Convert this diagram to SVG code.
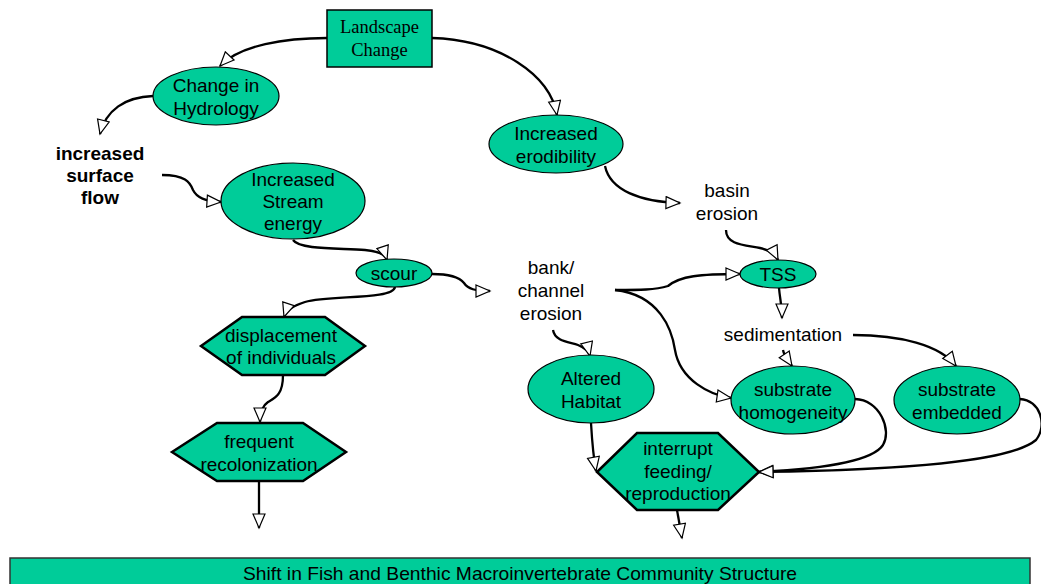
<svg xmlns="http://www.w3.org/2000/svg" width="1041" height="584" viewBox="0 0 1041 584">
<style>
.n{fill:#00CC99;stroke:#000;stroke-width:1.2}
.h{fill:#00CC99;stroke:#000;stroke-width:2.5}
.t{font-family:"Liberation Sans",Arial,sans-serif;font-size:19px;fill:#000;text-anchor:middle}
.b{font-weight:bold}
.s{font-family:"Liberation Serif","Times New Roman",serif;font-size:18.5px;fill:#000;text-anchor:middle}
.c{fill:none;stroke:#000;stroke-width:2.3;marker-end:url(#a)}
</style>
<defs>
<marker id="a" markerUnits="userSpaceOnUse" markerWidth="17" markerHeight="15" refX="15" refY="7" orient="auto">
<path d="M1,1 L15,7 L1,13 Z" fill="#fff" stroke="#000" stroke-width="1.2"/>
</marker>
</defs>
<rect width="1041" height="584" fill="#fff"/>
<g id="connectors">
<path class="c" d="M327,38 C285,38 240,45 220,66"/>
<path class="c" d="M153,96 C125,97 106,110 100,134"/>
<path class="c" d="M162,175 C185,175 190,182 193,190 C197,198 205,201 221,202"/>
<path class="c" d="M293,240 C300,250 340,248 365,250 C378,251 385,254 387,260"/>
<path class="c" d="M432,274 C452,274 460,278 464,283 C468,289 475,291 490,291"/>
<path class="c" d="M395,287 C393,300 330,295 305,302 C292,306 286,311 284,317"/>
<path class="c" d="M283,375 C283,395 275,398 268,402 C262,406 260,412 260,422"/>
<path class="c" d="M259,481 L259,528"/>
<path class="c" d="M432,38 C500,40 550,75 557,115"/>
<path class="c" d="M605,166 C610,190 640,202 680,203"/>
<path class="c" d="M726,230 C726,245 745,245 760,248 C770,250 775,254 778,260"/>
<path class="c" d="M615,290 C640,290 655,290 668,286 C680,276 700,274 740,274"/>
<path class="c" d="M615,290 C660,295 672,330 675,350 C680,380 710,395 731,398"/>
<path class="c" d="M553,330 C555,342 570,342 578,345 C585,348 589,352 590,356"/>
<path class="c" d="M779,288 C780,300 782,305 782,318"/>
<path class="c" d="M783,350 C784,356 788,360 792,366"/>
<path class="c" d="M853,335 C900,335 940,345 956,366"/>
<path class="c" d="M855,399 C880,400 892,430 883,445 C870,465 800,470 759,472"/>
<path class="c" d="M1020,399 C1040,400 1048,425 1036,440 C1010,462 900,470 759,472"/>
<path class="c" d="M591,423 C592,440 593,455 596,471"/>
<path class="c" d="M677,510 L682,538"/>
</g>
<g id="landscape-change">
<rect class="n" x="327" y="10" width="105" height="57" style="stroke-width:1.5"/>
<text class="s" x="379.5" y="33">Landscape</text>
<text class="s" x="379.5" y="56">Change</text>
</g>
<g id="change-hydrology">
<ellipse class="n" cx="216" cy="96" rx="63" ry="29"/>
<text class="t" x="216" y="92">Change in</text>
<text class="t" x="216" y="115">Hydrology</text>
</g>
<g id="increased-surface-flow">
<text class="t b" x="100" y="160">increased</text>
<text class="t b" x="100" y="182">surface</text>
<text class="t b" x="100" y="204">flow</text>
</g>
<g id="stream-energy">
<ellipse class="n" cx="293" cy="201" rx="72" ry="38"/>
<text class="t" x="293" y="186">Increased</text>
<text class="t" x="293" y="208">Stream</text>
<text class="t" x="293" y="230">energy</text>
</g>
<g id="scour">
<ellipse class="n" cx="394" cy="273" rx="38" ry="14"/>
<text class="t" x="394" y="280">scour</text>
</g>
<g id="displacement">
<polygon class="h" points="201,346 242,317 325,317 365,346 325,375 242,375"/>
<text class="t" x="281" y="342">displacement</text>
<text class="t" x="281" y="364">of individuals</text>
</g>
<g id="recolonization">
<polygon class="h" points="172,452 217,423 303,423 346,452 303,481 217,481"/>
<text class="t" x="259" y="448">frequent</text>
<text class="t" x="259" y="471">recolonization</text>
</g>
<g id="erodibility">
<ellipse class="n" cx="556" cy="144" rx="67" ry="29"/>
<text class="t" x="556" y="140">Increased</text>
<text class="t" x="556" y="163">erodibility</text>
</g>
<g id="basin-erosion">
<text class="t" x="727" y="197">basin</text>
<text class="t" x="727" y="220">erosion</text>
</g>
<g id="bank-erosion">
<text class="t" x="551" y="274">bank/</text>
<text class="t" x="551" y="297">channel</text>
<text class="t" x="551" y="320">erosion</text>
</g>
<g id="tss">
<ellipse class="n" cx="778" cy="274" rx="38" ry="14"/>
<text class="t" x="778" y="281">TSS</text>
</g>
<g id="sedimentation">
<text class="t" x="783" y="341">sedimentation</text>
</g>
<g id="altered-habitat">
<ellipse class="n" cx="591" cy="389" rx="63" ry="34"/>
<text class="t" x="591" y="385">Altered</text>
<text class="t" x="591" y="408">Habitat</text>
</g>
<g id="substrate-homogeneity">
<ellipse class="n" cx="793" cy="400" rx="62" ry="34"/>
<text class="t" x="793" y="396">substrate</text>
<text class="t" x="793" y="419">homogeneity</text>
</g>
<g id="substrate-embedded">
<ellipse class="n" cx="957" cy="400" rx="63" ry="34"/>
<text class="t" x="957" y="396">substrate</text>
<text class="t" x="957" y="419">embedded</text>
</g>
<g id="interrupt">
<polygon class="h" points="597,472 637,433 718,433 759,472 718,510 637,510"/>
<text class="t" x="678" y="455">interrupt</text>
<text class="t" x="678" y="478">feeding/</text>
<text class="t" x="678" y="500">reproduction</text>
</g>
<g id="community-shift">
<rect class="n" x="10" y="558" width="1020" height="30" style="stroke-width:1.5;stroke:#333"/>
<text class="t" x="520" y="580" textLength="554" lengthAdjust="spacingAndGlyphs">Shift in Fish and Benthic Macroinvertebrate Community Structure</text>
</g>
</svg>
